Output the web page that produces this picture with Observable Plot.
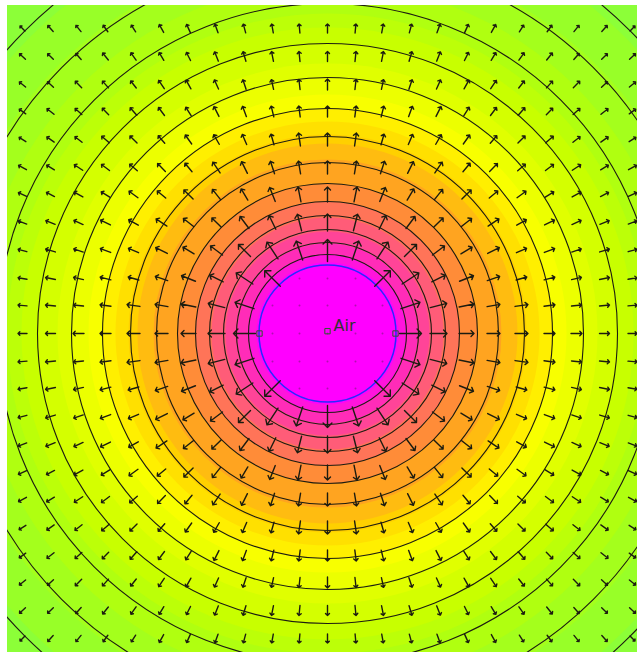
<!DOCTYPE html>
<html>
<head>
<meta charset="utf-8">
<script src="https://cdn.jsdelivr.net/npm/d3@7"></script>
<script src="https://cdn.jsdelivr.net/npm/@observablehq/plot@0.6"></script>
<style>
  html, body { margin: 0; padding: 0; background: #fff; }
  #chart svg { display: block; }
</style>
</head>
<body>
<div id="chart"></div>
<script>
// Density bands: outer radius of each band and its colour
const bandOuterRadius = [700, 460, 420, 380, 350, 320, 306, 290, 270, 255, 239, 225, 212, 199, 190, 174, 150, 132, 116, 102, 90, 79, 71];
const bandColor = ["#80ff48", "#8cff38", "#98ff28", "#a4ff1c", "#b0ff10", "#bcff08", "#c8ff00", "#d4ff00", "#e0ff00", "#ecff00", "#f8ff00", "#ffef00", "#ffe000", "#ffd000", "#ffbc10", "#ffa420", "#ff8c38", "#ff7458", "#ff5c78", "#ff4498", "#ff2cb8", "#ff14dc", "#ff00ff"];

// Equipotential contour radii
const contourRadius = [79, 91, 104, 118, 132, 150, 171, 197, 225, 256, 290, 330, 376, 428, 488];

// Air region boundary
const boundaryRadius = [68.5];

// Vector sampling grid
const gridX = [-305, -277, -249, -222, -194, -166, -139, -111, -83, -55, -28, 0, 28, 55, 83, 111, 139, 166, 194, 222, 249, 277, 305];
const gridY = [-305, -277, -249, -222, -194, -166, -139, -111, -83, -55, -28, 0, 28, 55, 83, 111, 139, 166, 194, 222, 249, 277, 305];

// Arrow length read against distance from the centre
const arrowRadius = [69, 85, 100, 120, 150, 200, 250, 300, 360, 420];
const arrowLength = [22, 20, 17, 15, 13, 11, 10, 9, 8, 7];

// Mesh nodes and block label
const nodeX = [-68, 68, 0];
const nodeY = [0, 0, 2.3];
const labelText = ["Air"];
const labelX = [6];
const labelY = [8];

// ---- build tables ----
const bands = bandOuterRadius.map((r, i) => ({x: 0, y: 0, r, color: bandColor[i]}));
const contours = contourRadius.map(r => ({x: 0, y: 0, r}));
const boundary = boundaryRadius.map(r => ({x: 0, y: 0, r}));
const grid = gridX.flatMap(x => gridY.map(y => ({x, y, dist: Math.hypot(x, y)})));
const bis = d3.bisector(d => d).right;
const lenAt = dist => arrowLength[Math.max(0, Math.min(arrowLength.length - 1, bis(arrowRadius, dist) - 1))];
const outside = grid.filter(d => d.dist > boundaryRadius[0]).map(d => ({
  ...d, len: lenAt(d.dist), angle: Math.atan2(d.x, d.y) * 180 / Math.PI
}));
const inside = grid.filter(d => d.dist <= boundaryRadius[0]);
const nodes = nodeX.map((x, i) => ({x, y: nodeY[i]}));
const labels = labelText.map((t, i) => ({x: labelX[i], y: labelY[i], text: t}));

const chart = Plot.plot({
  width: 637,
  height: 652,
  marginLeft: 7,
  marginRight: 0,
  marginTop: 5,
  marginBottom: 0,
  x: {domain: [-320, 310], axis: null},
  y: {domain: [-319, 328], axis: null},
  r: {type: "identity"},
  color: {type: "identity"},
  length: {type: "identity"},
  style: {background: "#fff"},
  marks: [
    Plot.dot(bands, {x: "x", y: "y", r: "r", fill: "color", clip: true}),
    Plot.dot(contours, {x: "x", y: "y", r: "r", fill: "none", stroke: "#1c1c10", strokeWidth: 1.1, clip: true}),
    Plot.dot(boundary, {x: "x", y: "y", r: "r", fill: "none", stroke: "#2a2aff", strokeWidth: 1.5}),
    Plot.vector(outside, {x: "x", y: "y", length: "len", rotate: "angle", anchor: "middle", stroke: "#1c1c10", strokeWidth: 1.4, clip: true}),
    Plot.dot(inside, {x: "x", y: "y", r: 1, fill: "#b010b0"}),
    Plot.dot(nodes, {x: "x", y: "y", symbol: "square", r: 3, fill: "none", stroke: "#2d5a2d", strokeWidth: 1}),
    Plot.text(labels, {x: "x", y: "y", text: "text", textAnchor: "start", fontSize: 16, fill: "#333", fontFamily: "DejaVu Sans"})
  ]
});
document.getElementById("chart").appendChild(chart);
</script>
</body>
</html>
